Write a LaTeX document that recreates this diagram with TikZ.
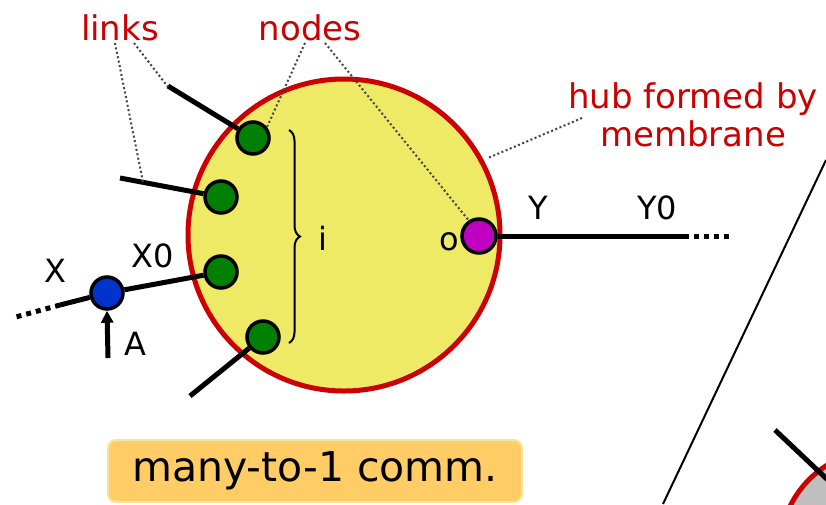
\documentclass[tikz,border=0pt]{standalone}
\usepackage{fontspec}
\setmainfont{DejaVu Sans}
\usetikzlibrary{decorations.pathreplacing,arrows.meta}
\definecolor{hubfill}{RGB}{238,234,102}
\definecolor{hubred}{RGB}{204,0,0}
\definecolor{ngreen}{RGB}{0,128,0}
\definecolor{nblue}{RGB}{0,51,204}
\definecolor{npurple}{RGB}{192,0,192}
\definecolor{boxfill}{RGB}{255,204,102}
\definecolor{boxline}{RGB}{240,232,160}
\definecolor{dotgray}{RGB}{68,68,68}
\tikzset{
  pnode/.style={circle,draw=black,line width=3.5pt,minimum size=32pt,inner sep=0pt},
  link/.style={line width=5pt,black},
  dotlink/.style={line width=5pt,black,dash pattern=on 5pt off 5pt},
  callout/.style={dotgray,line width=2pt,dash pattern=on 2pt off 2.5pt},
  redlabel/.style={text=hubred,font=\fontsize{34}{38}\selectfont,inner sep=0pt},
  blacklabel/.style={text=black,font=\fontsize{32}{36}\selectfont,inner sep=0pt},
}
\begin{document}
\begin{tikzpicture}[x=1pt,y=-1pt]
\useasboundingbox (0,0) rectangle (826,504);
% hub
\node[circle,draw=hubred,fill=hubfill,line width=5pt,minimum size=312pt,inner sep=0pt] (hub) at (344,235) {};
% other hub (bottom right)
\node[circle,draw=hubred,fill=black!25,line width=5pt,minimum size=200pt,inner sep=0pt] (hub2) at (880,550) {};
\coordinate (l5) at (775,430);
\coordinate (l5e) at (830,482);
\draw[link] (l5) -- (l5e);
% diagonal separator
\coordinate (d1) at (826,160);
\coordinate (d2) at (663,504);
\draw[line width=2pt] (d1) -- (d2);
% nodes
\node[pnode,fill=ngreen] (g1) at (253,138) {};
\node[pnode,fill=ngreen] (g2) at (221,197) {};
\node[pnode,fill=ngreen] (g3) at (221,272) {};
\node[pnode,fill=ngreen] (g4) at (263,337) {};
\node[pnode,fill=npurple,minimum size=34pt] (o) at (479,236) {};
\node[pnode,fill=nblue] (b) at (107,293) {};
% links
\coordinate (l1) at (168,86);
\coordinate (l2) at (120,178);
\coordinate (l4) at (190,396);
\draw[link] (l1) -- (g1);
\draw[link] (l2) -- (g2);
\draw[link] (g3) -- (b);
\draw[link] (l4) -- (g4);
\coordinate (xs) at (60,305);
\coordinate (xe) at (12,318);
\draw[link] (b) -- (xs);
\draw[dotlink] (xs) -- (xe);
\coordinate (ys) at (684,236);
\coordinate (ye) at (730,236);
\draw[link] (o) -- (ys);
\draw[dotlink] (ys) -- (ye);
\coordinate (a0) at (108,358);
\draw[line width=5pt,-{Triangle[length=12pt,width=12pt]}] (a0) -- (b.south);
% brace
\coordinate (br1) at (289,130);
\coordinate (br2) at (289,343);
\draw[line width=2pt,decorate,decoration={brace,amplitude=11pt}] (br1) -- (br2);
% labels
\node[blacklabel] (li) at (323,238) {i};
\node[blacklabel] (lo) at (449,242) {o};
\node[blacklabel] (lY) at (538,208) {Y};
\node[blacklabel] (lY0) at (657,208) {Y0};
\node[blacklabel] (lX) at (55,271) {X};
\node[blacklabel] (lX0) at (153,256) {X0};
\node[blacklabel] (lA) at (135,344) {A};
% red labels
\node[redlabel] (links) at (120,28) {links};
\node[redlabel] (nodes) at (310,28) {nodes};
\node[redlabel,align=center] (hubl) at (693,115) {hub formed by\\membrane};
% callouts
\coordinate (c1) at (115,43);
\coordinate (c1e) at (143,182);
\coordinate (c2) at (134,43);
\coordinate (c2e) at (168,87);
\coordinate (c3) at (305,43);
\coordinate (c3e) at (267,127);
\coordinate (c4) at (325,43);
\coordinate (c4e) at (470,222);
\coordinate (c5) at (582,118);
\coordinate (c5e) at (488,158);
\draw[callout] (c1) -- (c1e);
\draw[callout] (c2) -- (c2e);
\draw[callout] (c3) -- (c3e);
\draw[callout] (c4) -- (c4e);
\draw[callout] (c5) -- (c5e);
% box
\node[draw=boxline,fill=boxfill,line width=2pt,rounded corners=8pt,minimum width=414pt,minimum height=62pt,font=\fontsize{41}{45}\selectfont] (box) at (315,471) {many-to-1 comm.};
\end{tikzpicture}
\end{document}
